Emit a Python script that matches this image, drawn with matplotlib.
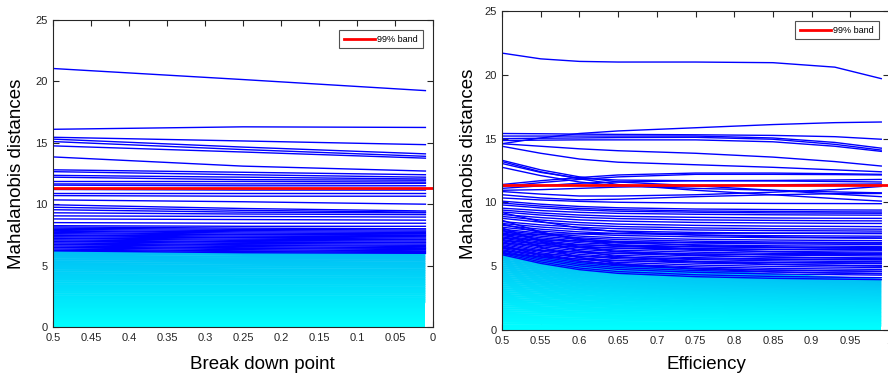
import numpy as np
import matplotlib
matplotlib.use("Agg")
import matplotlib.pyplot as plt
from matplotlib.colors import LinearSegmentedColormap

plt.rcParams["font.family"] = ["Liberation Sans", "DejaVu Sans"]

# --- monitoring grids -------------------------------------------------------
BDP_X = [0.5, 0.25, 0.01]                                # break down point (0.5 -> 0)
EFF_X = [0.5, 0.55, 0.6, 0.65, 0.75, 0.85, 0.93, 0.99]  # efficiency, flagged units
EFF_X_IN = [0.5, 0.6, 0.75, 0.9, 0.99]                  # efficiency, clean units

BAND_99 = 11.345                                         # 99% chi-square band

# distances of units flagged at some point (break down point monitoring)
BDP_OUT = [
    [21.05, 20.15, 19.25], [16.10, 16.30, 16.25], [15.45, 15.15, 14.85],
    [15.30, 14.65, 14.10], [15.10, 14.45, 13.90], [14.75, 14.25, 13.75],
    [13.85, 13.10, 12.70], [12.80, 12.60, 12.40], [12.65, 12.40, 12.20],
    [12.35, 12.20, 12.05], [12.20, 12.00, 11.95], [11.85, 11.85, 11.80],
    [11.65, 11.65, 11.70], [11.55, 11.50, 11.50], [11.20, 11.15, 11.15],
    [10.95, 10.95, 10.95], [10.70, 10.65, 10.65], [10.35, 10.20, 10.00],
    [9.95, 9.65, 9.45], [9.75, 9.50, 9.35], [9.55, 9.35, 9.30],
    [9.30, 9.20, 9.15], [9.05, 9.00, 8.95], [8.80, 8.75, 8.70],
    [8.50, 8.45, 8.45], [8.25, 8.20, 8.20], [8.15, 8.05, 8.00],
    [8.05, 7.95, 7.90], [7.95, 7.85, 7.80], [7.85, 7.75, 7.70],
    [7.80, 7.65, 7.60], [7.70, 7.55, 7.50], [7.60, 7.50, 7.45],
    [7.50, 7.40, 7.35], [7.45, 7.30, 7.25], [7.35, 7.25, 7.15],
    [7.25, 7.15, 7.10], [7.20, 7.05, 7.00], [7.10, 6.95, 6.90],
    [7.00, 6.90, 6.85], [6.95, 6.80, 6.75], [6.85, 6.70, 6.65],
    [6.75, 6.65, 6.55], [6.70, 6.55, 6.45], [6.60, 6.45, 6.40],
    [6.50, 6.40, 6.30], [6.45, 6.30, 6.20], [6.35, 6.20, 6.15],
    [6.25, 6.15, 6.05], [6.20, 6.05, 6.00],
]

# distances of units never flagged (break down point monitoring)
BDP_IN = [
    [6.10, 6.00, 5.95], [5.95, 5.88, 5.82], [5.80, 5.72, 5.68], [5.65, 5.58, 5.55],
    [5.50, 5.45, 5.40], [5.35, 5.30, 5.25], [5.20, 5.15, 5.12], [5.05, 5.00, 4.98],
    [4.90, 4.86, 4.83], [4.75, 4.70, 4.68], [4.60, 4.56, 4.54], [4.45, 4.42, 4.40],
    [4.30, 4.27, 4.25], [4.15, 4.12, 4.10], [4.00, 3.97, 3.96], [3.85, 3.83, 3.82],
    [3.70, 3.68, 3.67], [3.55, 3.53, 3.52], [3.40, 3.38, 3.38], [3.25, 3.24, 3.23],
    [3.10, 3.09, 3.08], [2.95, 2.94, 2.93], [2.80, 2.79, 2.79], [2.65, 2.64, 2.64],
    [2.50, 2.49, 2.49], [2.35, 2.35, 2.34], [2.20, 2.20, 2.19], [2.05, 2.05, 2.04],
    [1.90, 1.90, 1.90], [1.75, 1.75, 1.75], [1.60, 1.60, 1.60], [1.45, 1.45, 1.45],
    [1.30, 1.30, 1.30], [1.15, 1.15, 1.15], [1.00, 1.00, 1.00], [0.85, 0.85, 0.85],
    [0.70, 0.70, 0.70], [0.55, 0.55, 0.55], [0.40, 0.40, 0.40], [0.25, 0.25, 0.25],
    [0.12, 0.12, 0.12],
]

# distances of units flagged at some point (efficiency monitoring)
EFF_OUT = [
    [21.70, 21.25, 21.05, 21.00, 21.00, 20.95, 20.60, 19.70],
    [14.60, 15.05, 15.40, 15.60, 15.85, 16.10, 16.25, 16.30],
    [15.40, 15.38, 15.35, 15.33, 15.30, 15.25, 15.15, 14.95],
    [15.20, 15.20, 15.20, 15.20, 15.20, 15.05, 14.70, 14.25],
    [15.00, 15.03, 15.05, 15.08, 15.10, 14.95, 14.55, 14.10],
    [14.85, 14.88, 14.90, 14.90, 14.90, 14.75, 14.40, 14.00],
    [14.60, 14.40, 14.20, 14.05, 13.85, 13.55, 13.20, 12.85],
    [14.40, 13.85, 13.40, 13.15, 12.95, 12.75, 12.55, 12.40],
    [13.30, 12.55, 12.00, 11.60, 11.30, 10.95, 10.65, 10.45],
    [13.20, 12.40, 11.85, 11.40, 10.95, 10.60, 10.30, 10.10],
    [13.05, 12.35, 11.90, 11.75, 11.70, 11.72, 11.76, 11.80],
    [12.75, 12.10, 11.60, 11.30, 11.10, 10.95, 10.82, 10.75],
    [11.40, 11.70, 11.95, 12.15, 12.30, 12.30, 12.25, 12.20],
    [11.25, 11.55, 11.80, 12.00, 12.20, 12.20, 12.18, 12.15],
    [11.10, 11.30, 11.50, 11.60, 11.70, 11.68, 11.64, 11.60],
    [10.95, 11.00, 11.10, 11.20, 11.30, 11.38, 11.42, 11.45],
    [10.85, 10.65, 10.50, 10.50, 10.60, 10.80, 11.00, 11.25],
    [10.60, 10.35, 10.20, 10.25, 10.45, 10.60, 10.68, 10.70],
    [10.35, 10.19, 10.08, 10.01, 9.95, 9.92, 9.91, 9.90],
    [10.10, 9.86, 9.68, 9.58, 9.48, 9.44, 9.41, 9.40],
    [9.95, 9.71, 9.53, 9.43, 9.33, 9.29, 9.26, 9.25],
    [9.80, 9.57, 9.41, 9.31, 9.23, 9.18, 9.16, 9.15],
    [9.55, 9.36, 9.22, 9.14, 9.07, 9.03, 9.01, 9.00],
    [9.40, 9.17, 9.01, 8.91, 8.83, 8.78, 8.76, 8.75],
    [9.25, 9.01, 8.83, 8.73, 8.63, 8.59, 8.56, 8.55],
    [9.20, 8.50, 8.00, 7.70, 7.44, 7.30, 7.24, 7.20],
    [9.05, 8.81, 8.63, 8.53, 8.43, 8.39, 8.36, 8.35],
    [8.90, 8.62, 8.42, 8.30, 8.20, 8.14, 8.12, 8.10],
    [8.75, 8.45, 8.24, 8.11, 8.00, 7.94, 7.92, 7.90],
    [8.60, 7.69, 7.04, 6.65, 6.31, 6.13, 6.05, 6.00],
    [8.50, 8.24, 8.05, 7.94, 7.84, 7.79, 7.77, 7.75],
    [8.35, 8.07, 7.87, 7.75, 7.65, 7.59, 7.57, 7.55],
    [8.30, 7.64, 7.16, 6.88, 6.63, 6.50, 6.44, 6.40],
    [8.20, 7.90, 7.69, 7.56, 7.45, 7.39, 7.37, 7.35],
    [8.05, 7.75, 7.54, 7.41, 7.30, 7.24, 7.22, 7.20],
    [8.00, 6.95, 6.20, 5.75, 5.36, 5.15, 5.06, 5.00],
    [7.90, 7.59, 7.36, 7.23, 7.11, 7.05, 7.02, 7.00],
    [7.80, 7.47, 7.23, 7.09, 6.96, 6.90, 6.87, 6.85],
    [7.80, 7.03, 6.48, 6.15, 5.86, 5.71, 5.64, 5.60],
    [7.70, 7.35, 7.10, 6.95, 6.82, 6.75, 6.72, 6.70],
    [7.60, 7.23, 6.97, 6.81, 6.68, 6.60, 6.57, 6.55],
    [7.60, 6.48, 5.68, 5.20, 4.78, 4.56, 4.46, 4.40],
    [7.50, 7.12, 6.84, 6.68, 6.53, 6.46, 6.42, 6.40],
    [7.45, 7.50, 7.54, 7.56, 7.58, 7.59, 7.60, 7.60],
    [7.40, 7.00, 6.71, 6.54, 6.39, 6.31, 6.27, 6.25],
    [7.30, 6.88, 6.58, 6.40, 6.24, 6.16, 6.12, 6.10],
    [7.20, 7.06, 6.96, 6.90, 6.85, 6.82, 6.81, 6.80],
    [7.20, 6.76, 6.45, 6.26, 6.10, 6.01, 5.98, 5.95],
    [7.10, 6.65, 6.32, 6.13, 5.96, 5.87, 5.83, 5.80],
    [7.00, 6.81, 6.67, 6.59, 6.52, 6.48, 6.46, 6.45],
    [7.00, 6.53, 6.19, 5.99, 5.81, 5.72, 5.67, 5.65],
    [6.90, 6.41, 6.06, 5.85, 5.67, 5.57, 5.53, 5.50],
    [6.80, 6.62, 6.50, 6.42, 6.36, 6.32, 6.31, 6.30],
    [6.80, 6.29, 5.93, 5.71, 5.52, 5.42, 5.38, 5.35],
    [6.70, 6.18, 5.80, 5.58, 5.38, 5.28, 5.23, 5.20],
    [6.60, 6.06, 5.67, 5.44, 5.24, 5.13, 5.08, 5.05],
    [6.60, 5.90, 5.40, 5.10, 4.84, 4.70, 4.64, 4.60],
    [6.50, 5.94, 5.54, 5.30, 5.09, 4.98, 4.93, 4.90],
    [6.40, 6.22, 6.10, 6.02, 5.96, 5.92, 5.91, 5.90],
    [6.40, 5.82, 5.41, 5.16, 4.95, 4.83, 4.78, 4.75],
    [6.30, 5.71, 5.28, 5.03, 4.80, 4.69, 4.63, 4.60],
    [6.20, 5.96, 5.78, 5.68, 5.58, 5.54, 5.51, 5.50],
    [6.20, 5.59, 5.15, 4.89, 4.66, 4.54, 4.48, 4.45],
    [6.10, 5.47, 5.02, 4.75, 4.52, 4.39, 4.34, 4.30],
    [6.00, 5.74, 5.55, 5.44, 5.34, 5.29, 5.27, 5.25],
    [6.00, 5.34, 4.86, 4.58, 4.33, 4.20, 4.14, 4.10],
    [5.90, 5.22, 4.73, 4.44, 4.18, 4.05, 3.99, 3.95],
]

# distances of units never flagged (efficiency monitoring)
EFF_IN = [
    [6.05, 5.30, 4.65, 4.20, 3.95], [5.90, 5.20, 4.55, 4.12, 3.88],
    [5.75, 5.08, 4.45, 4.05, 3.80], [5.60, 4.96, 4.35, 3.95, 3.72],
    [5.45, 4.84, 4.25, 3.86, 3.64], [5.30, 4.72, 4.15, 3.77, 3.56],
    [5.15, 4.60, 4.05, 3.68, 3.48], [5.00, 4.48, 3.95, 3.59, 3.40],
    [4.85, 4.35, 3.84, 3.50, 3.32], [4.70, 4.22, 3.73, 3.40, 3.23],
    [4.55, 4.10, 3.62, 3.30, 3.14], [4.40, 3.97, 3.51, 3.21, 3.05],
    [4.25, 3.84, 3.40, 3.11, 2.96], [4.10, 3.71, 3.29, 3.01, 2.87],
    [3.95, 3.58, 3.18, 2.91, 2.78], [3.80, 3.45, 3.07, 2.81, 2.68],
    [3.65, 3.32, 2.96, 2.71, 2.59], [3.50, 3.19, 2.85, 2.61, 2.50],
    [3.35, 3.06, 2.74, 2.51, 2.40], [3.20, 2.93, 2.62, 2.41, 2.31],
    [3.05, 2.80, 2.51, 2.31, 2.21], [2.90, 2.66, 2.40, 2.21, 2.12],
    [2.75, 2.53, 2.28, 2.11, 2.02], [2.60, 2.40, 2.17, 2.00, 1.92],
    [2.45, 2.26, 2.05, 1.90, 1.83], [2.30, 2.13, 1.93, 1.79, 1.73],
    [2.15, 1.99, 1.81, 1.69, 1.63], [2.00, 1.86, 1.69, 1.58, 1.53],
    [1.85, 1.72, 1.57, 1.47, 1.42], [1.70, 1.59, 1.45, 1.36, 1.32],
    [1.55, 1.45, 1.33, 1.25, 1.21], [1.40, 1.31, 1.21, 1.14, 1.11],
    [1.25, 1.18, 1.09, 1.03, 1.00], [1.10, 1.04, 0.97, 0.92, 0.90],
    [0.95, 0.90, 0.84, 0.81, 0.79], [0.80, 0.76, 0.72, 0.69, 0.68],
    [0.65, 0.62, 0.59, 0.57, 0.57], [0.50, 0.48, 0.46, 0.45, 0.45],
    [0.35, 0.34, 0.33, 0.33, 0.33], [0.20, 0.20, 0.20, 0.20, 0.20],
    [0.10, 0.10, 0.10, 0.10, 0.10],
]

BDP_TICKS = [0.5, 0.45, 0.4, 0.35, 0.3, 0.25, 0.2, 0.15, 0.1, 0.05, 0]
EFF_TICKS = [0.5, 0.55, 0.6, 0.65, 0.7, 0.75, 0.8, 0.85, 0.9, 0.95, 1]

AX_COL = (0.15, 0.15, 0.15)
cyan_map = LinearSegmentedColormap.from_list("cy", ["#00ffff", "#00bff5"])


def draw_panel(ax, x_in, inliers, x_out, outliers, xlim, ticks, xlabel):
    inl = np.array(inliers)
    order = np.argsort(inl[:, 0])
    for rank, i in enumerate(order):
        ax.plot(x_in, inl[i], color=cyan_map(rank / (len(inl) - 1)), lw=1.7,
                solid_capstyle="butt")
    for row in outliers:
        ax.plot(x_out, row, color="blue", lw=1.0)
    ax.axhline(BAND_99, color="red", lw=2.0, label="99% band")

    ax.set_xlim(*xlim)
    ax.set_ylim(0, 25)
    ax.set_xticks(ticks)
    ax.set_xticklabels([f"{t:g}" for t in ticks])
    ax.set_yticks([0, 5, 10, 15, 20, 25])
    ax.tick_params(direction="in", top=True, right=True, length=4,
                   width=0.8, labelsize=8, colors=AX_COL, pad=4)
    for sp in ax.spines.values():
        sp.set_color(AX_COL)
        sp.set_linewidth(0.8)
    ax.set_xlabel(xlabel, fontsize=13.5, color="black")
    ax.set_ylabel("Mahalanobis distances", fontsize=13.5, color="black")
    leg = ax.legend(loc="upper right", fontsize=6.5, frameon=True,
                    fancybox=False, handlelength=3.4, borderpad=0.5,
                    handletextpad=0.3, borderaxespad=1.15)
    leg.get_frame().set_edgecolor(AX_COL)
    leg.get_frame().set_linewidth(0.8)


fig = plt.figure(figsize=(8.88, 3.74), dpi=100)
ax1 = fig.add_axes([53 / 888, 1 - 327 / 374, 380 / 888, 307 / 374])
ax2 = fig.add_axes([502 / 888, 1 - 330 / 374, 387 / 888, 319 / 374])

draw_panel(ax1, BDP_X, BDP_IN, BDP_X, BDP_OUT, (0.5, 0), BDP_TICKS,
           "Break down point")
draw_panel(ax2, EFF_X_IN, EFF_IN, EFF_X, EFF_OUT, (0.5, 1), EFF_TICKS,
           "Efficiency")

ax1.xaxis.set_label_coords(0.55, -0.095)
ax2.xaxis.set_label_coords(0.527, -0.08)
ax1.yaxis.set_label_coords(-0.074, 0.5)
ax2.yaxis.set_label_coords(-0.065, 0.52)

fig.savefig("out.png", dpi=100)
